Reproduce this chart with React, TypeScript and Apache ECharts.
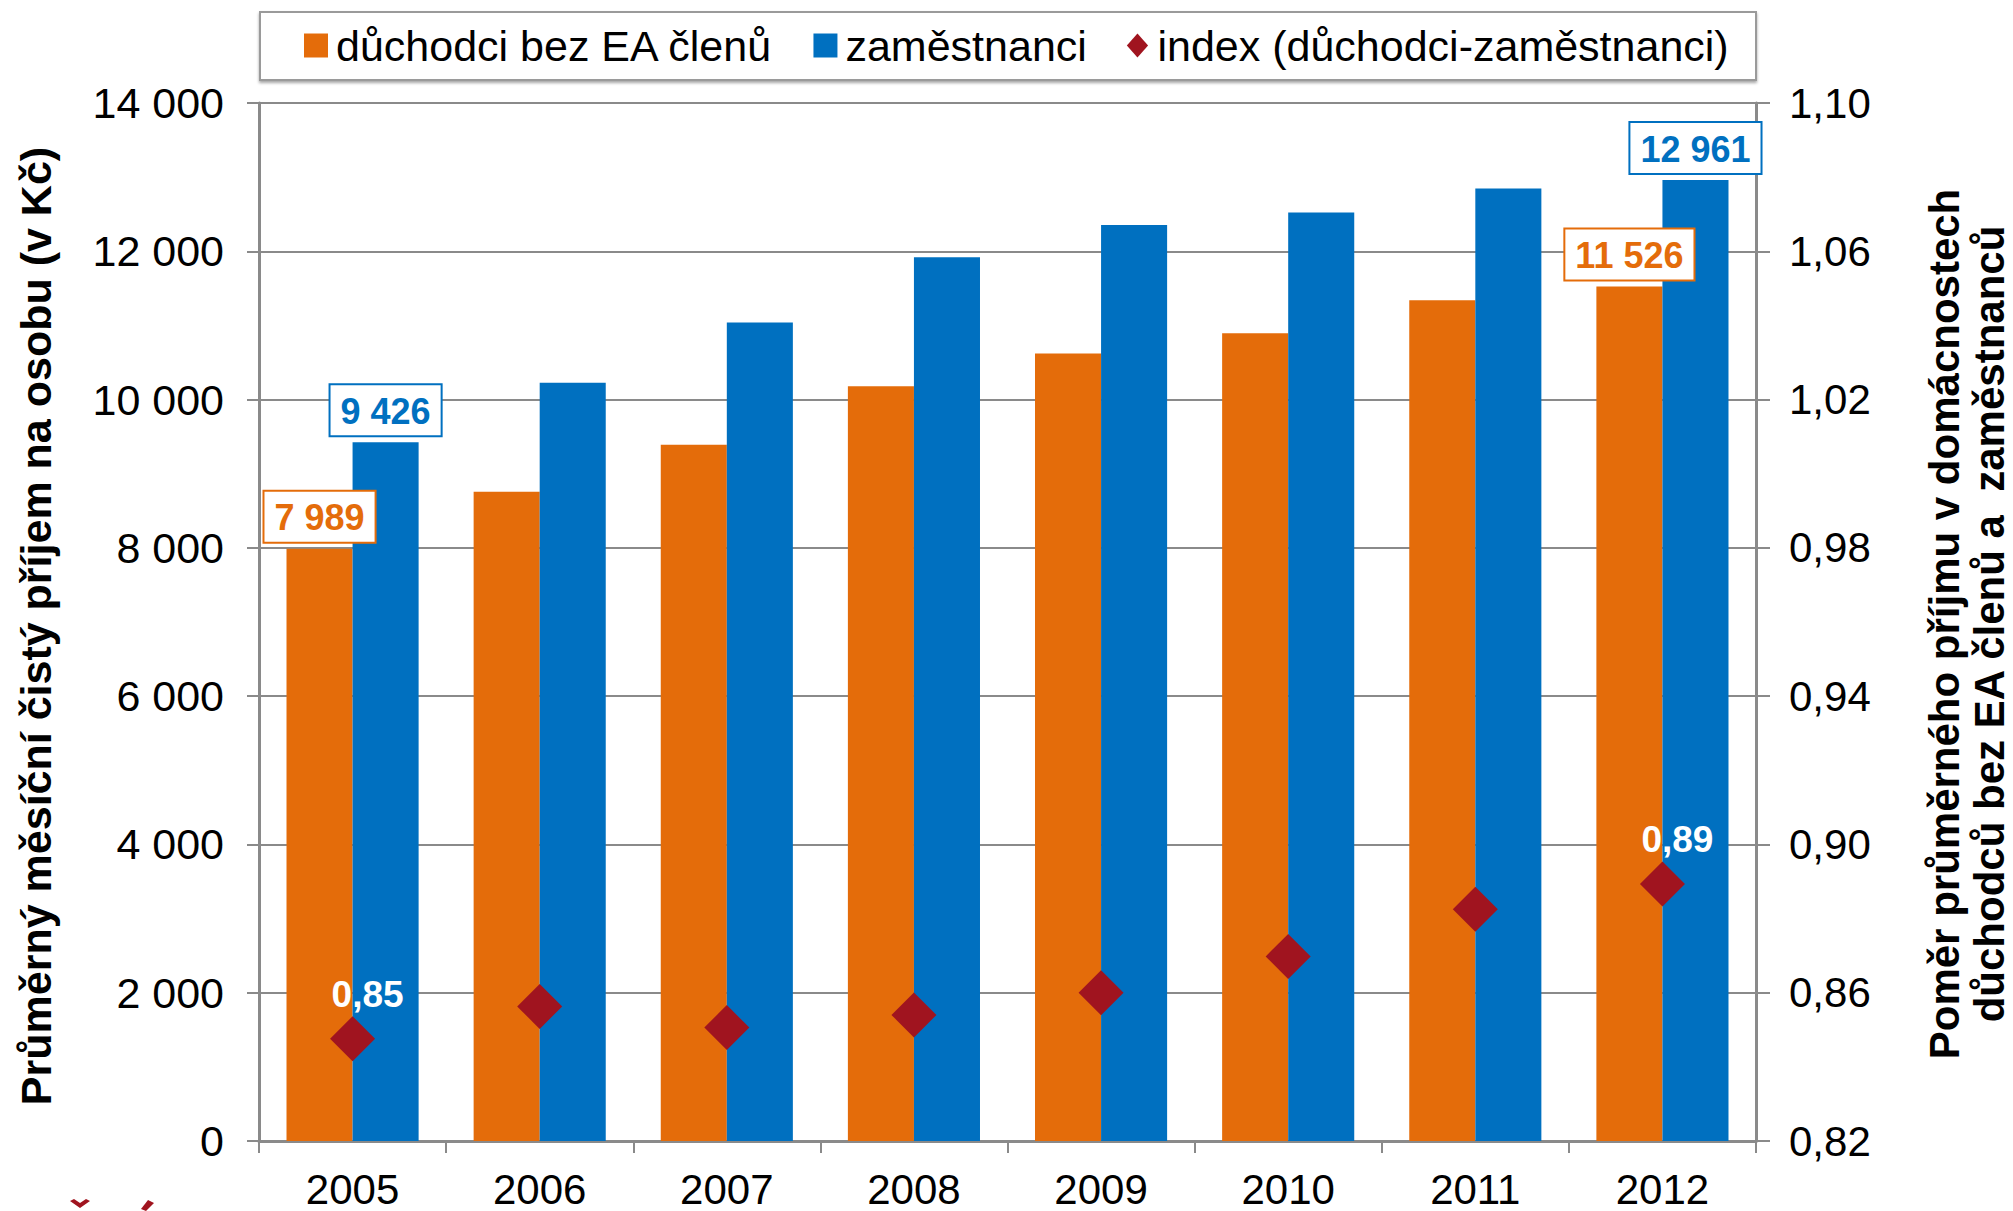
import { useEffect, useRef } from "react";
import * as echarts from "echarts";

const years = ["2005", "2006", "2007", "2008", "2009", "2010", "2011", "2012"];
const pensioners = [7989, 8757, 9391, 10178, 10623, 10893, 11338, 11526];
const employees = [9426, 10227, 11041, 11918, 12353, 12524, 12848, 12961];
const indexValues = [0.8476, 0.8563, 0.8506, 0.854, 0.86, 0.8698, 0.8825, 0.8893];
const labeledPoints = [0, 7];

const seriesNames = ["důchodci bez EA členů", "zaměstnanci", "index (důchodci-zaměstnanci)"];
const leftTitle = "Průměrný měsíční čistý příjem na osobu (v Kč)";
const rightTitle = "Poměr průměrného příjmu v domácnostech\ndůchodců bez EA členů a  zaměstnanců";

const ORANGE = "#E46C0A";
const BLUE = "#0070C0";
const RED = "#A0141F";
const GRAY = "#8a8a8a";
const FONT = "'Liberation Sans', Arial, sans-serif";

const fmtThousands = (v: number) => String(v).replace(/\B(?=(\d{3})+(?!\d))/g, " ");
const fmtComma = (v: number) => v.toFixed(2).replace(".", ",");

function barData(values: number[], color: string) {
  return values.map((v, i) =>
    labeledPoints.includes(i)
      ? {
          value: v,
          label: {
            show: true,
            position: "top",
            distance: 7,
            formatter: (p: any) => fmtThousands(p.value),
            color,
            fontFamily: FONT,
            fontWeight: "bold",
            fontSize: 36,
            lineHeight: 40,
            backgroundColor: "#fff",
            borderColor: color,
            borderWidth: 2,
            padding: [6, 10, 4, 10],
          },
        }
      : v
  );
}

export default function App() {
  const ref = useRef<HTMLDivElement>(null);
  useEffect(() => {
    document.body.style.margin = "0";
    document.body.style.overflow = "hidden";
    const chart = echarts.init(ref.current!, undefined, { renderer: "svg" });
    const option: any = {
      animation: false,
      backgroundColor: "#fff",
      textStyle: { fontFamily: FONT },
      grid: { left: 259, right: 257, top: 103, bottom: 70, containLabel: false },
      legend: {
        top: 24,
        left: 304,
        padding: 0,
        itemWidth: 24,
        itemHeight: 24,
        itemGap: 40,
        textStyle: { fontFamily: FONT, fontSize: 43, color: "#000", lineHeight: 42, padding: [0, 0, 0, 3] },
        data: [
          { name: seriesNames[0], icon: "rect" },
          { name: seriesNames[1], icon: "rect" },
          { name: seriesNames[2], icon: "path://M0,13 L11.5,0 L23,13 L11.5,26 Z" },
        ],
      },
      xAxis: {
        type: "category",
        data: years,
        axisLine: { lineStyle: { color: GRAY, width: 3 } },
        axisTick: { show: true, length: 12, alignWithLabel: false, lineStyle: { color: GRAY, width: 2 } },
        axisLabel: { color: "#000", fontSize: 42, fontFamily: FONT, margin: 27 },
        splitLine: { show: false },
      },
      yAxis: [
        {
          type: "value",
          min: 0,
          max: 14000,
          interval: 2000,
          axisLine: { show: true, lineStyle: { color: GRAY, width: 3 } },
          axisTick: { show: true, length: 12, lineStyle: { color: GRAY, width: 2 } },
          axisLabel: { color: "#000", fontSize: 43, fontFamily: FONT, margin: 35, formatter: fmtThousands },
          splitLine: { show: true, lineStyle: { color: GRAY, width: 2 } },
        },
        {
          type: "value",
          min: 0.82,
          max: 1.1,
          alignTicks: true,
          position: "right",
          axisLine: { show: true, lineStyle: { color: GRAY, width: 3 } },
          axisTick: { show: true, length: 14, lineStyle: { color: GRAY, width: 2 } },
          axisLabel: { color: "#000", fontSize: 42, fontFamily: FONT, margin: 33, formatter: fmtComma },
          splitLine: { show: false },
        },
      ],
      series: [
        {
          name: seriesNames[0],
          type: "bar",
          yAxisIndex: 0,
          barGap: "0%",
          barCategoryGap: "29.4%",
          itemStyle: { color: ORANGE },
          data: barData(pensioners, ORANGE),
          z: 2,
        },
        {
          name: seriesNames[1],
          type: "bar",
          yAxisIndex: 0,
          barGap: "0%",
          barCategoryGap: "29.4%",
          itemStyle: { color: BLUE },
          data: barData(employees, BLUE),
          z: 2,
        },
        {
          name: seriesNames[2],
          type: "scatter",
          yAxisIndex: 1,
          symbol: "diamond",
          symbolSize: 45,
          itemStyle: { color: RED, opacity: 1 },
          z: 5,
          data: indexValues.map((v, i) =>
            labeledPoints.includes(i)
              ? {
                  value: v,
                  label: {
                    show: true,
                    position: "top",
                    distance: 2,
                    offset: [15, 0],
                    formatter: (p: any) => fmtComma(p.value),
                    color: "#fff",
                    opacity: 1,
                    fontFamily: FONT,
                    fontWeight: "bold",
                    fontSize: 37,
                    lineHeight: 40,
                  },
                }
              : v
          ),
        },
      ],
      graphic: [
        {
          type: "rect",
          z: -1,
          shape: { x: 260, y: 12, width: 1496, height: 68 },
          style: {
            fill: "#fff",
            stroke: "#9a9a9a",
            lineWidth: 2,
            shadowBlur: 3,
            shadowOffsetY: 2,
            shadowColor: "rgba(0,0,0,0.35)",
          },
        },
        {
          type: "text",
          x: 36,
          y: 626,
          rotation: Math.PI / 2,
          style: {
            text: leftTitle,
            font: `bold 43px ${FONT}`,
            fill: "#000",
            align: "center",
            verticalAlign: "middle",
          },
        },
        {
          type: "text",
          x: 1967,
          y: 624,
          rotation: Math.PI / 2,
          style: {
            text: rightTitle,
            font: `bold 42px ${FONT}`,
            lineHeight: 45,
            fill: "#000",
            align: "center",
            verticalAlign: "middle",
          },
        },
        {
          type: "polygon",
          shape: { points: [[70, 1201], [74, 1199], [80, 1203], [86, 1199], [90, 1201], [80, 1208]] },
          style: { fill: RED },
        },
        {
          type: "polygon",
          shape: { points: [[148, 1200], [154, 1203], [146, 1211], [141, 1209]] },
          style: { fill: RED },
        },
      ],
    };
    chart.setOption(option);
    return () => chart.dispose();
  }, []);
  return <div ref={ref} style={{ width: 2013, height: 1211 }} />;
}
